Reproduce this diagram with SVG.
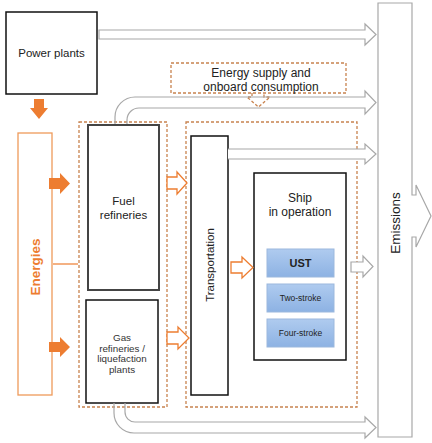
<svg xmlns="http://www.w3.org/2000/svg" width="432" height="443" viewBox="0 0 432 443">
<defs>
<linearGradient id="blue" x1="0" y1="0" x2="0" y2="1">
<stop offset="0" stop-color="#AFCBEF"/>
<stop offset="1" stop-color="#8DB2E3"/>
</linearGradient>
</defs>
<style>
.box{fill:#fff;stroke:#111;stroke-width:1.5}
.dash{fill:none;stroke:#C8834F;stroke-width:1.3;stroke-dasharray:3 2}
.gray{fill:#fff;stroke:#A8A8A8;stroke-width:1.2}
.grayo{fill:none;stroke:#A8A8A8;stroke-width:1.2}
.oh{fill:#fff;stroke:#ED7D31;stroke-width:1.3}
.os{fill:#ED7D31;stroke:none}
.blue{fill:url(#blue);stroke:#9BB8DD;stroke-width:1}
.t{font-family:"Liberation Sans",Arial,sans-serif;fill:#222;text-anchor:middle}
</style>
<rect width="432" height="443" fill="#fff"/>

<g id="emissions">
<path class="gray" d="M378,3 H412 V195 H416 V185 L431,216 L416,247 V237 H412 V437 H378 Z"/>
<text class="t" font-size="13.5" transform="translate(400,223) rotate(-90)">Emissions</text>
</g>

<g id="power-plants">
<rect class="box" x="6" y="12" width="91" height="82"/>
<text class="t" x="51.5" y="57" font-size="11.5">Power plants</text>
</g>

<g id="energies">
<rect x="18" y="133" width="34" height="262" fill="#fff" stroke="#EE9A5A" stroke-width="1.3"/>
<text class="t" font-size="13.5" font-weight="bold" style="fill:#ED7D31" transform="translate(40,267) rotate(-90)">Energies</text>
</g>

<g id="energy-supply">
<rect class="dash" x="171" y="63" width="175" height="30"/>
<text class="t" x="261" y="77" font-size="12">Energy supply and</text>
<text class="t" x="261" y="90.5" font-size="12">onboard consumption</text>
<path class="dash" d="M252,93 V97 H247 L258.5,107 L270,97 H264 V93"/>
</g>

<g id="production">
<rect class="dash" x="79" y="122" width="88" height="285"/>
</g>

<g id="fuel-refineries">
<rect x="88" y="125" width="71" height="165" fill="#fff" stroke="#444" stroke-width="2"/>
<text class="t" x="123.5" y="205" font-size="11.5">Fuel</text>
<text class="t" x="123.5" y="219" font-size="11.5">refineries</text>
</g>

<g id="gas-refineries">
<rect class="box" x="86" y="300" width="72" height="103"/>
<text class="t" x="122" y="340.5" font-size="9.8" style="fill:#333">Gas</text>
<text class="t" x="122" y="351.5" font-size="9.8" style="fill:#333">refineries /</text>
<text class="t" x="122" y="362" font-size="9.8" style="fill:#333">liquefaction</text>
<text class="t" x="122" y="373" font-size="9.8" style="fill:#333">plants</text>
</g>

<g id="operation">
<rect class="dash" x="186" y="122" width="171" height="285"/>
</g>

<g id="transportation">
<rect class="box" x="191" y="136" width="37" height="259"/>
<text class="t" font-size="11.5" transform="translate(214,265) rotate(-90)">Transportation</text>
</g>

<g id="ship">
<rect class="box" x="254" y="173" width="92" height="187"/>
<text class="t" x="300" y="202" font-size="12">Ship</text>
<text class="t" x="300" y="216" font-size="12">in operation</text>
</g>

<g id="ust">
<rect class="blue" x="267" y="249" width="67" height="28"/>
<text class="t" x="300.5" y="267" font-size="11" font-weight="bold">UST</text>
</g>
<g id="two-stroke">
<rect class="blue" x="267" y="284" width="67" height="28"/>
<text class="t" x="300.5" y="301" font-size="8.5">Two-stroke</text>
</g>
<g id="four-stroke">
<rect class="blue" x="267" y="319" width="67" height="28"/>
<text class="t" x="300.5" y="336" font-size="8.5">Four-stroke</text>
</g>

<g id="connectors">
<path class="gray" d="M99,30 H365 V24 L376,34.5 L365,45 V39 H99 Z"/>
<path class="grayo" d="M115,124 V117 A20,20 0 0 1 135,97 H365 V91 L376,102.5 L365,114 V108 H139 A12,12 0 0 0 127,120 V124"/>
<path class="gray" d="M228,149 H365 V144 L376,154 L365,164 V159 H228"/>
<path class="gray" d="M351,262 H363 V256 L373,266.5 L363,277 V272 H351 Z"/>
<path class="grayo" d="M114,403 V413 A20,20 0 0 0 134,433 H365 V438 L376,427.5 L365,417 V422 H135 A10,10 0 0 1 125,412 V403"/>
<path class="os" d="M34,99 H44 V108 H48 L39,119 L30,108 H34 Z"/>
<path class="os" d="M49,178 H60 V173 L70,183.5 L60,194 V189 H49 Z"/>
<path class="os" d="M49,342 H60 V337 L70,347 L60,357 V352 H49 Z"/>
<path d="M53,264 H78" stroke="#ED7D31" stroke-width="1.2"/>
<path class="oh" d="M167,177 H177 V172 L187,183 L177,194 V189 H167 Z"/>
<path class="oh" d="M167,332 H178 V327 L189,338 L178,349 V344 H167 Z"/>
<path class="oh" d="M231,262 H242 V257 L253,267.5 L242,278 V273 H231 Z"/>
</g>
</svg>
